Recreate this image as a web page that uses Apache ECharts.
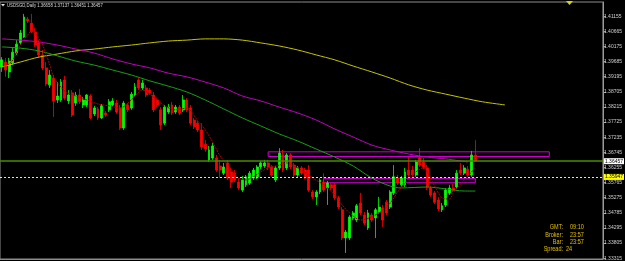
<!DOCTYPE html>
<html><head><meta charset="utf-8">
<script src="https://cdn.jsdelivr.net/npm/echarts@6/dist/echarts.min.js"></script>
<style>html,body{margin:0;padding:0;background:#000;}#c{width:625px;height:261px;}</style>
</head><body><div id="c"></div>
<script>
const headerText = "USDSGD,Daily 1.36658 1.37137 1.36451 1.36457";
const totalSlots = 163;
const opens = [1.3951,1.3967,1.3935,1.3964,1.3996,1.4029,1.4048,1.4106,1.4093,1.4064,
1.4029,1.3990,1.3948,1.3893,1.3915,1.3844,1.3844,1.3909,1.3841,1.3867,
1.3834,1.3860,1.3828,1.3828,1.3857,1.3799,1.3815,1.3786,1.3802,1.3812,
1.3828,1.3834,1.3818,1.3753,1.3828,1.3818,1.3860,1.3909,1.3883,1.3883,
1.3876,1.3860,1.3844,1.3812,1.3769,1.3805,1.3828,1.3805,1.3821,1.3812,
1.3844,1.3818,1.3779,1.3769,1.3747,1.3701,1.3650,1.3656,1.3656,1.3630,
1.3607,1.3640,1.3611,1.3607,1.3578,1.3552,1.3569,1.3575,1.3591,1.3595,
1.3627,1.3630,1.3640,1.3627,1.3585,1.3624,1.3666,1.3624,1.3666,1.3633,
1.3601,1.3624,1.3617,1.3617,1.3546,1.3530,1.3546,1.3578,1.3559,1.3569,
1.3569,1.3527,1.3488,1.3397,1.3397,1.3462,1.3455,1.3510,1.3471,1.3429,
1.3471,1.3462,1.3481,1.3494,1.3513,1.3497,1.3543,1.3591,1.3569,1.3569,
1.3617,1.3617,1.3601,1.3656,1.3643,1.3624,1.3559,1.3543,1.3520,1.3488,
1.3504,1.3543,1.3559,1.3562,1.3617,1.3607,1.3620,1.3601,1.36658];
const highs = [1.3983,1.3980,1.3980,1.4012,1.4038,1.4071,1.4123,1.4113,1.4123,1.4077,
1.4038,1.4006,1.3967,1.3941,1.3925,1.3902,1.3912,1.3922,1.3876,1.3876,
1.3870,1.3880,1.3854,1.3863,1.3863,1.3825,1.3821,1.3831,1.3808,1.3847,
1.3850,1.3844,1.3828,1.3841,1.3834,1.3870,1.3899,1.3915,1.3909,1.3893,
1.3883,1.3870,1.3850,1.3821,1.3828,1.3831,1.3838,1.3828,1.3828,1.3860,
1.3850,1.3828,1.3786,1.3776,1.3769,1.3714,1.3695,1.3705,1.3666,1.3650,
1.3640,1.3650,1.3624,1.3617,1.3591,1.3598,1.3601,1.3614,1.3624,1.3633,
1.3646,1.3650,1.3650,1.3633,1.3630,1.3688,1.3682,1.3672,1.3672,1.3640,
1.3630,1.3630,1.3624,1.3633,1.3552,1.3552,1.3591,1.3607,1.3582,1.3575,
1.3575,1.3533,1.3497,1.3423,1.3471,1.3484,1.3507,1.3543,1.3481,1.3488,
1.3478,1.3494,1.3530,1.3504,1.3520,1.3552,1.3633,1.3601,1.3598,1.3624,
1.3659,1.3630,1.3650,1.3688,1.3656,1.3633,1.3565,1.3549,1.3530,1.3510,
1.3559,1.3569,1.3572,1.3617,1.3640,1.3633,1.3630,1.3679,1.37137];
const lows = [1.3935,1.3919,1.3915,1.3957,1.3990,1.4022,1.4045,1.4093,1.4061,1.4016,
1.3980,1.3941,1.3889,1.3883,1.3789,1.3834,1.3838,1.3844,1.3831,1.3789,
1.3825,1.3831,1.3818,1.3821,1.3782,1.3792,1.3779,1.3782,1.3789,1.3805,
1.3821,1.3799,1.3747,1.3747,1.3805,1.3812,1.3854,1.3876,1.3876,1.3854,
1.3860,1.3805,1.3821,1.3747,1.3763,1.3799,1.3795,1.3799,1.3795,1.3805,
1.3805,1.3763,1.3750,1.3740,1.3682,1.3676,1.3643,1.3650,1.3611,1.3591,
1.3601,1.3585,1.3559,1.3578,1.3552,1.3546,1.3562,1.3569,1.3585,1.3588,
1.3620,1.3624,1.3617,1.3595,1.3578,1.3617,1.3611,1.3617,1.3620,1.3595,
1.3595,1.3601,1.3588,1.3546,1.3523,1.3504,1.3539,1.3546,1.3504,1.3552,
1.3520,1.3491,1.3390,1.3348,1.3390,1.3455,1.3449,1.3471,1.3439,1.3423,
1.3449,1.3397,1.3475,1.3433,1.3471,1.3491,1.3536,1.3569,1.3562,1.3562,
1.3595,1.3595,1.3595,1.3627,1.3620,1.3552,1.3530,1.3507,1.3484,1.3481,
1.3497,1.3536,1.3546,1.3556,1.3601,1.3601,1.3595,1.3595,1.36451];
const closes = [1.3974,1.3941,1.3970,1.3999,1.4025,1.4061,1.4113,1.4100,1.4064,1.4022,
1.3990,1.3948,1.3896,1.3925,1.3841,1.3857,1.3902,1.3850,1.3860,1.3795,
1.3860,1.3838,1.3844,1.3860,1.3786,1.3818,1.3786,1.3825,1.3795,1.3838,
1.3841,1.3805,1.3753,1.3834,1.3812,1.3863,1.3886,1.3883,1.3899,1.3860,
1.3867,1.3812,1.3828,1.3763,1.3821,1.3821,1.3802,1.3821,1.3802,1.3844,
1.3812,1.3769,1.3757,1.3747,1.3692,1.3685,1.3682,1.3695,1.3617,1.3617,
1.3627,1.3591,1.3578,1.3585,1.3559,1.3585,1.3595,1.3607,1.3617,1.3627,
1.3640,1.3640,1.3627,1.3601,1.3624,1.3672,1.3617,1.3666,1.3627,1.3601,
1.3624,1.3607,1.3595,1.3552,1.3530,1.3546,1.3585,1.3552,1.3575,1.3559,
1.3527,1.3497,1.3397,1.3416,1.3465,1.3478,1.3501,1.3478,1.3445,1.3478,
1.3455,1.3488,1.3497,1.3455,1.3478,1.3546,1.3595,1.3575,1.3591,1.3611,
1.3601,1.3601,1.3643,1.3633,1.3627,1.3562,1.3536,1.3513,1.3491,1.3501,
1.3552,1.3559,1.3552,1.3607,1.3607,1.3624,1.3601,1.3666,1.36457];

// moving averages: [bar index, value]
const maYellow = [[0,1.3951],[5,1.3967],[10,1.3983],[15,1.3993],[20,1.4003],[25,1.4009],[30,1.4016],[35,1.4022],[40,1.4029],[45,1.4035],[50,1.4038],[55,1.4042],[60,1.4042],[65,1.4038],[70,1.4029],[75,1.4019],[80,1.4006],[85,1.3990],[90,1.3974],[95,1.3954],[100,1.3935],[105,1.3915],[110,1.3893],[115,1.3876],[120,1.3863],[125,1.3850],[130,1.3838],[136,1.3828]];
const maMagenta = [[0,1.4042],[5,1.4038],[10,1.4032],[15,1.4022],[20,1.4009],[25,1.3996],[30,1.3977],[35,1.3961],[40,1.3948],[45,1.3931],[50,1.3919],[55,1.3902],[60,1.3883],[65,1.3857],[70,1.3841],[75,1.3821],[80,1.3802],[85,1.3779],[90,1.3750],[95,1.3724],[100,1.3698],[105,1.3682],[110,1.3669],[115,1.3659],[120,1.3653],[126,1.3643]];
const maGreen = [[0,1.4016],[5,1.4012],[10,1.4003],[15,1.3987],[20,1.3970],[25,1.3957],[30,1.3941],[35,1.3925],[40,1.3906],[45,1.3889],[50,1.3870],[55,1.3844],[60,1.3815],[65,1.3786],[70,1.3760],[75,1.3734],[80,1.3711],[85,1.3685],[90,1.3659],[95,1.3630],[100,1.3591],[105,1.3565],[108,1.3559],[115,1.3562],[120,1.3556],[125,1.3549],[128,1.3549]];
const maRed = [[0,1.3948],[2,1.3961],[3,1.3974],[5,1.4022],[7,1.4055],[8,1.4068],[9,1.4061],[11,1.4022],[13,1.3957],[14,1.3919],[17,1.3873],[20,1.3857],[23,1.3844],[26,1.3831],[29,1.3825],[32,1.3818],[35,1.3844],[38,1.3876],[41,1.3854],[44,1.3825],[47,1.3812],[50,1.3818],[53,1.3776],[55,1.3747],[57,1.3708],[59,1.3663],[62,1.3620],[64,1.3591],[66,1.3585],[68,1.3595],[70,1.3611],[72,1.3624],[75,1.3633],[77,1.3640],[79,1.3630],[81,1.3617],[84,1.3591],[87,1.3569],[90,1.3536],[92,1.3504],[94,1.3478],[97,1.3455],[100,1.3465],[103,1.3488],[105,1.3510],[107,1.3546],[109,1.3575],[111,1.3601],[113,1.3620],[114,1.3624],[115,1.3611],[117,1.3565],[119,1.3527],[121,1.3523],[122,1.3543],[124,1.3572],[126,1.3598],[128,1.3624]];

const tickValues = [1.41155,1.40665,1.40175,1.39685,1.39195,1.38705,1.38215,1.37725,1.37235,1.36745,1.36255,1.35765,1.35275,1.34785,1.34295,1.33805,1.33315];
const yMin = 1.33288, yMax = 1.41615;
const bidPrice = 1.36457;
const levelPrice = 1.35947;
const zoneStart = [72, 87];
const zoneEnd = [148, 128];
const zoneHigh = [1.3676, 1.3590];
const zoneLow = [1.3661, 1.3576];
const infoLabels = ["GMT:", "Broker:", "Bar:", "Spread:"];
const infoValues = ["09:10", "23:57", "23:57", "24"];

const cats = [];
for (let i = 0; i < totalSlots; i++) cats.push(String(i));
const ohlc = opens.map((o, i) => [o, closes[i], lows[i], highs[i]]);

const FONT = "'Liberation Sans',sans-serif";
const chart = echarts.init(document.getElementById('c'), null, {renderer: 'canvas'});

const zones = zoneStart.map((s, i) => [{xAxis: s, yAxis: zoneHigh[i]}, {xAxis: zoneEnd[i], yAxis: zoneLow[i]}]);

const infoGraphics = [];
infoLabels.forEach((t, i) => {
  infoGraphics.push({type: 'text', x: 563, y: 227.5 + i * 7.3, scaleX: 0.85, style: {text: t, align: 'right', verticalAlign: 'middle', fill: '#e2c000', font: '6.5px ' + FONT}});
  infoGraphics.push({type: 'text', x: i === 3 ? 566 : 570, y: 227.5 + i * 7.3, scaleX: 0.85, style: {text: infoValues[i], align: 'left', verticalAlign: 'middle', fill: '#e2c000', font: '6.5px ' + FONT}});
});

function levelSeries(price, color, width, type, boxColor) {
  return {type: 'line', data: [], silent: true, z: 4,
    markLine: {silent: true, symbol: ['none', 'none'], animation: false, precision: 5,
      lineStyle: {color: color, width: width, type: type},
      label: {show: true, position: 'end', distance: 1, formatter: price.toFixed(5), color: '#000', backgroundColor: boxColor, padding: [0.5, 1], fontSize: 5, fontFamily: FONT},
      data: [{yAxis: price}]}};
}

chart.setOption({
  animation: false,
  backgroundColor: '#000',
  grid: {left: 0, right: 20, top: 2, bottom: 2, show: true, borderColor: '#8c8c8c', borderWidth: 1},
  xAxis: {type: 'category', data: cats, boundaryGap: true,
    axisLine: {show: true, lineStyle: {color: '#8c8c8c'}}, axisTick: {show: false}, axisLabel: {show: false}, splitLine: {show: false}},
  yAxis: {type: 'value', position: 'right', min: yMin, max: yMax, scale: true,
    axisLine: {show: true, lineStyle: {color: '#9a9a9a'}},
    axisTick: {show: true, length: 3, customValues: tickValues, lineStyle: {color: '#9a9a9a'}},
    axisLabel: {show: true, customValues: tickValues, margin: 1, fontSize: 5, fontFamily: FONT, color: '#d0d0d0', formatter: v => v.toFixed(5)},
    splitLine: {show: false}},
  graphic: [
    {type: 'polygon', shape: {points: [[1, 4], [5, 4], [3, 6.5]]}, style: {fill: '#e0e0e0'}},
    {type: 'text', x: 7, y: 5.5, scaleX: 0.78, style: {text: headerText, fill: '#d8d8d8', verticalAlign: 'middle', font: '5.5px ' + FONT}},
    {type: 'polygon', shape: {points: [[566, 1], [573, 1], [569.5, 5]]}, style: {fill: '#d8d800'}},
    ...infoGraphics
  ],
  series: [
    {type: 'candlestick', data: ohlc, barWidth: 2.4,
      itemStyle: {color: '#00ff00', color0: '#ff0000', borderColor: '#00ff00', borderColor0: '#ff0000', borderWidth: 0.8},
      markArea: {silent: true, itemStyle: {color: 'rgba(0,0,0,0)', borderColor: '#d000d0', borderWidth: 1}, data: zones}
    },
    {type: 'line', data: maYellow, showSymbol: false, smooth: 0.3, lineStyle: {color: '#c4c400', width: 1}},
    {type: 'line', data: maMagenta, showSymbol: false, smooth: 0.3, lineStyle: {color: '#c000c0', width: 1}},
    {type: 'line', data: maGreen, showSymbol: false, smooth: 0.3, lineStyle: {color: '#16a016', width: 1}},
    {type: 'line', data: maRed, showSymbol: false, smooth: 0.3, lineStyle: {color: '#b00000', width: 1, type: [2, 1]}},
    levelSeries(bidPrice, '#4c8a00', 1.5, 'solid', '#ffffff'),
    levelSeries(levelPrice, '#ffff00', 1.2, [2, 2], '#ffff00')
  ]
});
</script></body></html>
